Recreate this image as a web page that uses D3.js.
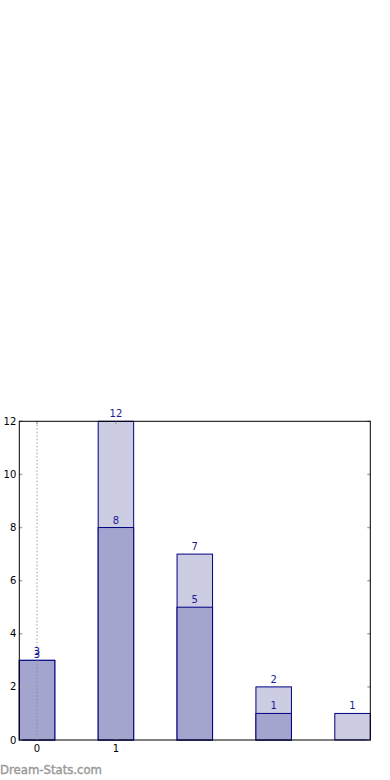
<!DOCTYPE html>
<html><head><meta charset="utf-8">
<script src="https://cdn.jsdelivr.net/npm/d3@7"></script>
<style>body{margin:0;background:#fff}svg{display:block}</style>
</head><body>
<script>
const categories = [0, 1, 2, 3, 4];
const innerValues = [3, 8, 5, 1, 0];
const totalValues = [3, 12, 7, 2, 1];
const yTicks = [0, 2, 4, 6, 8, 10, 12];
const xTickLabels = ["0", "1"];

const W = 390, H = 780;
const m = {left: 19.3, right: 370.3, top: 421.3, bottom: 740};
const svg = d3.select("body").append("svg").attr("width", W).attr("height", H);

const x = d3.scaleLinear().domain([-0.225, 4.225]).range([m.left, m.right]);
const y = d3.scaleLinear().domain([0, 12]).range([m.bottom, m.top]);
const bw = 0.45;
const stroke = "#000080";

// dotted guide at x=0
svg.append("line").attr("x1", x(0)).attr("x2", x(0)).attr("y1", m.top).attr("y2", m.bottom)
  .attr("stroke", "#b0b0b0").attr("stroke-width", 1.2).attr("stroke-dasharray", "1.5,2");

// total bars (light)
svg.selectAll("rect.total").data(categories).enter().append("rect")
  .attr("x", d => x(d - bw/2)).attr("width", d => x(d + bw/2) - x(d - bw/2))
  .attr("y", (d,i) => y(totalValues[i])).attr("height", (d,i) => y(0) - y(totalValues[i]))
  .attr("fill", "#cccce3").attr("stroke", stroke).attr("stroke-width", 1);

// inner bars (dark)
svg.selectAll("rect.inner").data(categories.filter((d,i) => innerValues[i] > 0)).enter().append("rect")
  .attr("x", d => x(d - bw/2)).attr("width", d => x(d + bw/2) - x(d - bw/2))
  .attr("y", d => y(innerValues[d])).attr("height", d => y(0) - y(innerValues[d]))
  .attr("fill", "#a3a5cf").attr("stroke", stroke).attr("stroke-width", 1);

// dotted line shows through bar 0
svg.append("line").attr("x1", x(0)).attr("x2", x(0)).attr("y1", y(totalValues[0])).attr("y2", m.bottom)
  .attr("stroke", "#8a8aa8").attr("stroke-width", 1.2).attr("stroke-dasharray", "1.5,2");

// labels
const lab = svg.append("g").attr("font-family", "DejaVu Sans").attr("font-size", 10)
  .attr("fill", "#1a1a99").attr("text-anchor", "middle");
categories.forEach((d, i) => {
  const same = innerValues[i] === totalValues[i];
  lab.append("text").attr("x", x(d)).attr("y", y(totalValues[i]) - (same ? 2 : 4)).text(totalValues[i]);
  if (innerValues[i] > 0)
    lab.append("text").attr("x", x(d)).attr("y", y(innerValues[i]) - (same ? 5.5 : 4)).text(innerValues[i]);
});

// ticks
const tg = svg.append("g").attr("stroke", "#aaaaaa").attr("stroke-width", 1.5);
yTicks.forEach(t => {
  tg.append("line").attr("x1", m.left).attr("x2", m.left + 3).attr("y1", y(t)).attr("y2", y(t));
  tg.append("line").attr("x1", m.right - 3).attr("x2", m.right).attr("y1", y(t)).attr("y2", y(t));
});
[0, 1].forEach(t => {
  tg.append("line").attr("x1", x(t)).attr("x2", x(t)).attr("y1", m.bottom).attr("y2", m.bottom - 3);
  tg.append("line").attr("x1", x(t)).attr("x2", x(t)).attr("y1", m.top).attr("y2", m.top + 3);
});

// frame
svg.append("rect").attr("x", m.left).attr("y", m.top).attr("width", m.right - m.left).attr("height", m.bottom - m.top)
  .attr("fill", "none").attr("stroke", "#000").attr("stroke-width", 1);

// tick labels
const tl = svg.append("g").attr("font-family", "DejaVu Sans").attr("font-size", 10).attr("fill", "#000");
yTicks.forEach(t => {
  tl.append("text").attr("x", m.left - 3).attr("y", y(t)).attr("dy", "0.35em").attr("text-anchor", "end").text(t);
});
xTickLabels.forEach((s, i) => {
  tl.append("text").attr("x", x(i)).attr("y", m.bottom + 12).attr("text-anchor", "middle").text(s);
});

// watermark
svg.append("text").attr("x", 0).attr("y", 774).attr("font-family", "DejaVu Sans")
  .attr("font-size", 12.5).attr("fill", "#999").attr("stroke", "#999").attr("stroke-width", 0.4)
  .attr("textLength", 102).attr("lengthAdjust", "spacingAndGlyphs").text("Dream-Stats.com");
</script>
</body></html>
